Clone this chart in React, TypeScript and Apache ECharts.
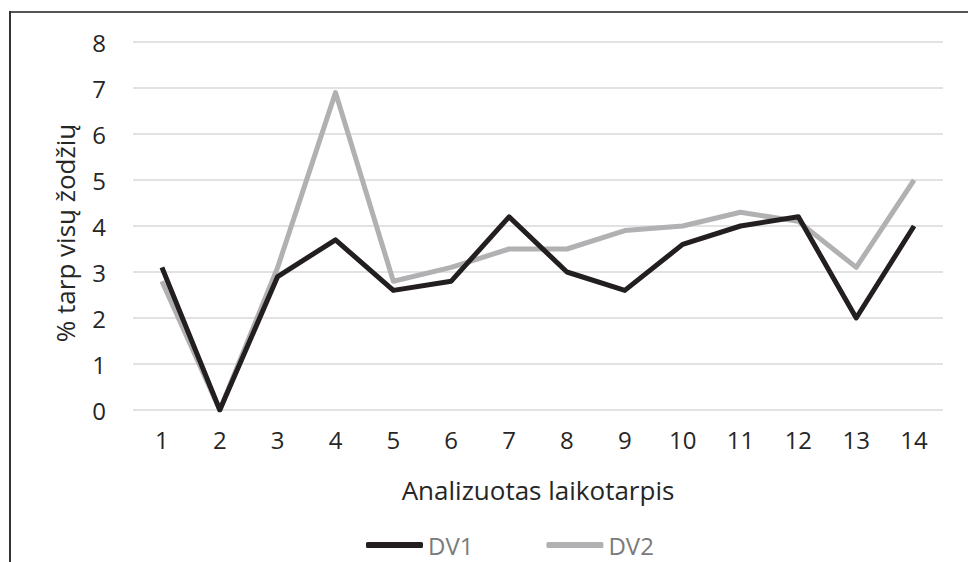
import React, { useEffect, useRef } from "react";
import * as echarts from "echarts";

const categories = ["1", "2", "3", "4", "5", "6", "7", "8", "9", "10", "11", "12", "13", "14"];
const dv1 = [3.1, 0, 2.9, 3.7, 2.6, 2.8, 4.2, 3.0, 2.6, 3.6, 4.0, 4.2, 2.0, 4.0];
const dv2 = [2.8, 0, 3.1, 6.9, 2.8, 3.1, 3.5, 3.5, 3.9, 4.0, 4.3, 4.1, 3.1, 5.0];
const seriesNames = ["DV1", "DV2"];
const xTitle = "Analizuotas laikotarpis";
const yTitle = "% tarp visų žodžių";

const FONT = "'Open Sans', sans-serif";

export default function App() {
  const ref = useRef<HTMLDivElement>(null);
  useEffect(() => {
    if (!ref.current) return;
    const chart = echarts.init(ref.current, undefined, { renderer: "svg" });
    chart.setOption({
      animation: false,
      backgroundColor: "#ffffff",
      textStyle: { fontFamily: FONT },
      grid: { left: 133, right: 25, top: 42, bottom: 152, containLabel: false },
      graphic: [
        { type: "line", shape: { x1: 9, y1: 12, x2: 968, y2: 12 }, style: { stroke: "#555555", lineWidth: 2 } },
        { type: "line", shape: { x1: 10, y1: 11, x2: 10, y2: 562 }, style: { stroke: "#333333", lineWidth: 2 } },
      ],
      legend: {
        data: seriesNames,
        left: 366,
        top: 533,
        padding: 0,
        icon: "roundRect",
        itemWidth: 57,
        itemHeight: 6,
        itemGap: 73,
        textStyle: { fontFamily: FONT, fontSize: 24, lineHeight: 20, color: "#7a7a7a" },
      },
      xAxis: {
        type: "category",
        data: categories,
        boundaryGap: true,
        axisLine: { show: false },
        axisTick: { show: false },
        axisLabel: { fontFamily: FONT, fontSize: 24, color: "#262626", margin: 17 },
        name: xTitle,
        nameLocation: "middle",
        nameGap: 67,
        nameTextStyle: { fontFamily: FONT, fontSize: 26, color: "#262626" },
      },
      yAxis: {
        type: "value",
        min: 0,
        max: 8,
        interval: 1,
        axisLine: { show: false },
        axisTick: { show: false },
        splitLine: { lineStyle: { color: "#d9d9d9", width: 1.5 } },
        axisLabel: { fontFamily: FONT, fontSize: 24, color: "#262626", margin: 27 },
        name: yTitle,
        nameLocation: "middle",
        nameGap: 55,
        nameTextStyle: { fontFamily: FONT, fontSize: 26, color: "#262626", padding: [0, 14, 0, 0] },
      },
      series: [
        {
          name: seriesNames[0],
          type: "line",
          data: dv1,
          symbol: "none",
          lineStyle: { color: "#231f20", width: 5, join: "round" },
          itemStyle: { color: "#231f20" },
          z: 3,
        },
        {
          name: seriesNames[1],
          type: "line",
          data: dv2,
          symbol: "none",
          lineStyle: { color: "#b1b1b3", width: 5, join: "round" },
          itemStyle: { color: "#b1b1b3" },
          z: 2,
        },
      ],
    });
    return () => chart.dispose();
  }, []);
  return (
    <div
      ref={ref}
      style={{ position: "fixed", left: 0, top: 0, width: 968, height: 562, background: "#fff" }}
    />
  );
}
